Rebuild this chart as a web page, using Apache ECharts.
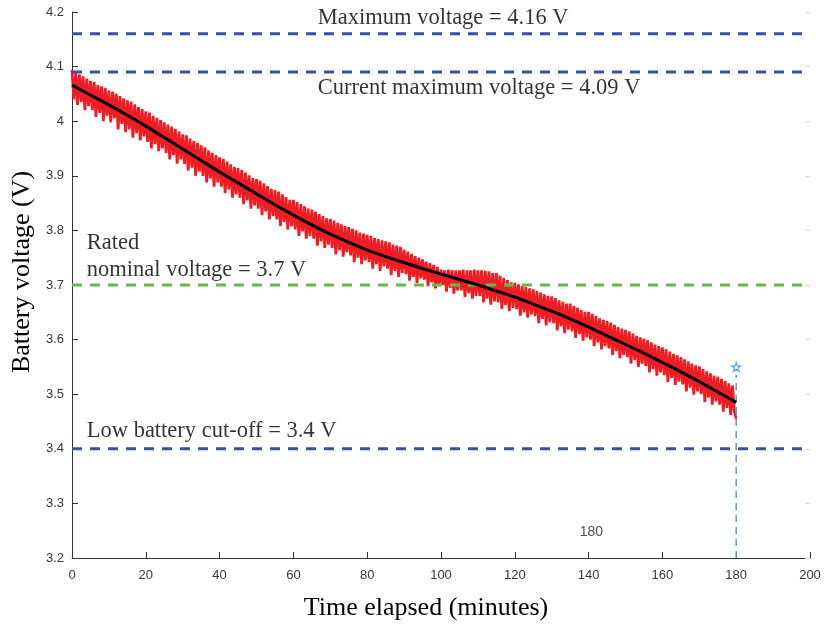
<!DOCTYPE html>
<html>
<head>
<meta charset="utf-8">
<script src="https://cdn.jsdelivr.net/npm/echarts@6/dist/echarts.min.js"></script>
<style>html,body{margin:0;padding:0;background:#fff}#c{width:824px;height:626px}</style>
</head>
<body>
<div id="c"></div>
<script>
// ---- data ----
const xTicks = [0, 20, 40, 60, 80, 100, 120, 140, 160, 180, 200];
const yTicks = [3.2, 3.3, 3.4, 3.5, 3.6, 3.7, 3.8, 3.9, 4.0, 4.1, 4.2];

// measured voltage, one reading every 0.5 minutes from t = 0
const measStep = 0.5;
const measVolt = [
  4.094, 4.040, 4.088, 4.030, 4.086, 4.035, 4.082, 4.020, 4.078, 4.028,
  4.074, 4.020, 4.072, 4.008, 4.066, 4.015, 4.064, 4.000, 4.061, 4.010,
  4.056, 3.998, 4.054, 4.005, 4.050, 3.985, 4.046, 3.995, 4.042, 3.980,
  4.038, 3.985, 4.036, 3.970, 4.031, 3.978, 4.026, 3.965, 4.022, 3.972,
  4.018, 3.962, 4.016, 3.950, 4.010, 3.958, 4.006, 3.945, 4.002, 3.950,
  3.998, 3.942, 3.994, 3.930, 3.990, 3.938, 3.986, 3.922, 3.981, 3.930,
  3.976, 3.922, 3.974, 3.910, 3.968, 3.915, 3.964, 3.900, 3.960, 3.908,
  3.956, 3.900, 3.952, 3.888, 3.946, 3.895, 3.942, 3.880, 3.938, 3.888,
  3.934, 3.880, 3.931, 3.868, 3.926, 3.875, 3.921, 3.860, 3.916, 3.866,
  3.914, 3.860, 3.911, 3.848, 3.906, 3.855, 3.901, 3.840, 3.896, 3.846,
  3.894, 3.840, 3.891, 3.828, 3.886, 3.835, 3.881, 3.820, 3.876, 3.826,
  3.874, 3.820, 3.871, 3.808, 3.866, 3.815, 3.861, 3.802, 3.856, 3.808,
  3.856, 3.802, 3.852, 3.790, 3.848, 3.798, 3.844, 3.785, 3.840, 3.790,
  3.838, 3.785, 3.834, 3.772, 3.830, 3.780, 3.826, 3.768, 3.822, 3.774,
  3.821, 3.768, 3.818, 3.756, 3.814, 3.764, 3.811, 3.752, 3.808, 3.760,
  3.806, 3.754, 3.803, 3.742, 3.800, 3.750, 3.796, 3.738, 3.794, 3.745,
  3.792, 3.742, 3.790, 3.730, 3.786, 3.738, 3.784, 3.726, 3.782, 3.734,
  3.780, 3.730, 3.778, 3.718, 3.774, 3.726, 3.772, 3.715, 3.770, 3.722,
  3.765, 3.720, 3.761, 3.708, 3.757, 3.715, 3.753, 3.704, 3.750, 3.712,
  3.747, 3.710, 3.743, 3.698, 3.740, 3.705, 3.737, 3.694, 3.733, 3.700,
  3.728, 3.700, 3.727, 3.688, 3.728, 3.695, 3.727, 3.684, 3.727, 3.690,
  3.727, 3.690, 3.728, 3.678, 3.727, 3.685, 3.727, 3.675, 3.728, 3.680,
  3.727, 3.680, 3.727, 3.668, 3.726, 3.675, 3.725, 3.664, 3.722, 3.670,
  3.722, 3.668, 3.717, 3.656, 3.713, 3.663, 3.709, 3.652, 3.705, 3.658,
  3.704, 3.656, 3.701, 3.644, 3.698, 3.650, 3.696, 3.640, 3.694, 3.646,
  3.692, 3.643, 3.689, 3.630, 3.686, 3.638, 3.683, 3.626, 3.680, 3.632,
  3.679, 3.630, 3.676, 3.617, 3.672, 3.624, 3.669, 3.612, 3.666, 3.618,
  3.666, 3.615, 3.662, 3.603, 3.658, 3.610, 3.654, 3.598, 3.651, 3.604,
  3.651, 3.600, 3.647, 3.588, 3.643, 3.595, 3.639, 3.582, 3.636, 3.588,
  3.634, 3.584, 3.631, 3.572, 3.627, 3.579, 3.623, 3.566, 3.620, 3.572,
  3.618, 3.568, 3.615, 3.556, 3.611, 3.563, 3.607, 3.550, 3.604, 3.556,
  3.602, 3.552, 3.599, 3.540, 3.595, 3.546, 3.591, 3.534, 3.588, 3.540,
  3.586, 3.535, 3.582, 3.522, 3.578, 3.530, 3.574, 3.517, 3.571, 3.523,
  3.568, 3.518, 3.564, 3.505, 3.560, 3.512, 3.556, 3.499, 3.553, 3.505,
  3.551, 3.500, 3.546, 3.486, 3.542, 3.494, 3.538, 3.481, 3.534, 3.487,
  3.532, 3.481, 3.528, 3.468, 3.524, 3.475, 3.520, 3.462, 3.516, 3.468,
  3.455
];

// fitted curve
const fitTime = [0,5,10,15,20,25,30,35,40,45,50,55,60,65,70,75,80,85,90,95,100,105,110,115,120,125,130,135,140,145,150,155,160,165,170,175,180];
const fitVolt = [4.066,4.048,4.030,4.011,3.991,3.970,3.949,3.928,3.907,3.887,3.867,3.847,3.828,3.810,3.793,3.778,3.764,3.752,3.741,3.730,3.720,3.710,3.700,3.689,3.678,3.665,3.652,3.638,3.623,3.607,3.591,3.575,3.558,3.541,3.523,3.504,3.485];

// reference levels
const refLevels = [4.16, 4.09, 3.7, 3.4];
const refNames = ['Maximum voltage', 'Current maximum voltage', 'Rated nominal voltage', 'Low battery cut-off'];

// data tip at end of test
const tipTime = 180;
const tipVolt = 3.55;
const tipLineTop = 3.535;
const tipLabel = '180';
const tipLabelPos = [137.6, 3.248];

// annotations
const annoText = ['Maximum voltage = 4.16 V', 'Current maximum voltage = 4.09 V', 'Rated', 'nominal voltage = 3.7 V', 'Low battery cut-off = 3.4 V'];
const annoX = [66.6, 66.6, 4.0, 4.0, 4.0];
const annoY = [4.189, 4.061, 3.776, 3.727, 3.433];

const xTitle = 'Time elapsed (minutes)';
const yTitle = 'Battery voltage (V)';

// ---- chart ----
const chart = echarts.init(document.getElementById('c'), null, {renderer: 'canvas'});
const navy = '#3c4fa4';
const green = '#62bd3f';
const refColors = [navy, navy, green, navy];
const serif = '"Liberation Serif", "Times New Roman", serif';
const sans = '"Liberation Sans", Arial, sans-serif';

const measData = measVolt.map((v, i) => [i * measStep, v]);
const fitData = fitTime.map((t, i) => [t, fitVolt[i]]);

const series = [];
series.push({
  type: 'line', name: 'measured', data: measData, showSymbol: false, z: 2,
  sampling: null, lineStyle: {color: '#ee1d24', width: 2.8, join: 'miter', miterLimit: 2}, animation: false
});
refLevels.forEach((lv, i) => {
  series.push({
    type: 'line', name: refNames[i], data: [[xTicks[0], lv], [xTicks[xTicks.length - 1], lv]],
    showSymbol: false, z: 3, animation: false,
    lineStyle: {color: refColors[i], width: 3, type: [10, 8]}
  });
});
series.push({
  type: 'line', name: 'tipline', data: [[tipTime, yTicks[0]], [tipTime, tipLineTop]],
  showSymbol: false, z: 4, animation: false,
  lineStyle: {color: '#4a9fdc', width: 1.5, type: [7, 5]}
});
series.push({
  type: 'scatter', name: 'tip', data: [[tipTime, tipVolt]], z: 6, animation: false,
  symbol: 'path://M50,0 L61,35 L98,35 L68,57 L79,91 L50,70 L21,91 L32,57 L2,35 L39,35 Z',
  symbolSize: 9,
  itemStyle: {color: '#ffffff', borderColor: '#3d95db', borderWidth: 1.3}
});
series.push({
  type: 'line', name: 'fit', data: fitData, showSymbol: false, smooth: 0.3, z: 5,
  lineStyle: {color: '#000000', width: 3}, animation: false
});
series.push({
  type: 'scatter', name: 'tiplabel', data: [tipLabelPos], symbolSize: 0, z: 7, animation: false,
  label: {show: true, position: 'right', distance: 0, formatter: tipLabel,
    fontFamily: sans, fontSize: 14, color: '#222'}
});
series.push({
  type: 'scatter', name: 'annotations', symbolSize: 0, z: 8, animation: false,
  data: annoText.map((t, i) => ({value: [annoX[i], annoY[i]], name: t})),
  label: {show: true, position: 'right', distance: 0, formatter: p => p.name,
    fontFamily: serif, fontSize: 22.5, color: '#000'}
});

chart.setOption({
  animation: false,
  backgroundColor: '#ffffff',
  grid: {left: 72, right: 14, top: 12, bottom: 68, containLabel: false},
  xAxis: {
    type: 'value', min: xTicks[0], max: xTicks[xTicks.length - 1], interval: 20,
    axisLine: {show: true, lineStyle: {color: '#333', width: 1}},
    axisTick: {show: true, inside: true, length: 6, lineStyle: {color: '#333'}},
    axisLabel: {color: '#3a3a3a', fontFamily: sans, fontSize: 13, margin: 11},
    splitLine: {show: false}
  },
  yAxis: [{
    type: 'value', min: yTicks[0], max: yTicks[yTicks.length - 1], interval: 0.1,
    axisLine: {show: true, lineStyle: {color: '#333', width: 1}},
    axisTick: {show: true, inside: true, length: 6, lineStyle: {color: '#333'}},
    axisLabel: {color: '#3a3a3a', fontFamily: sans, fontSize: 13, margin: 8,
      formatter: v => String(Math.round(v * 10) / 10)},
    splitLine: {show: false}
  }, {
    type: 'value', position: 'right', min: yTicks[0], max: yTicks[yTicks.length - 1], interval: 0.1,
    axisLine: {show: false},
    axisTick: {show: true, inside: true, length: 5, lineStyle: {color: '#d8d8d8'}},
    axisLabel: {show: false},
    splitLine: {show: false}
  }],
  graphic: [
    {type: 'text', x: 22, y: 272, rotation: Math.PI / 2,
      style: {text: yTitle, font: '26px ' + serif, fill: '#000', align: 'center', verticalAlign: 'middle'}},
    {type: 'text', x: 426, y: 608,
      style: {text: xTitle, font: '26px ' + serif, fill: '#000', align: 'center', verticalAlign: 'middle'}}
  ],
  series: series
});
</script>
</body>
</html>
